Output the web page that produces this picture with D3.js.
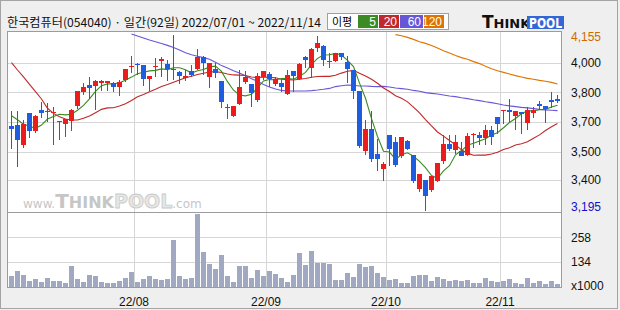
<!DOCTYPE html>
<html>
<head>
<meta charset="UTF-8">
<title>한국컴퓨터 일간</title>
<style>
  body { margin:0; background:#efefef; }
  svg { display:block; }
</style>
</head>
<body>
<script src="https://cdn.jsdelivr.net/npm/d3@7"></script>
<script>
// daily candles, 2022/07/01 ~ 2022/11/14 (92 trading days)
var open = [3655,3660,3550,3725,3625,3745,3735,3730,3680,3670, 3685,3765,3845,3880,3870,3890,3890,3890,3865,3910,
  3980,3995,3990,3915,3980,4015,3995,3970,3950,3920, 3955,3970,4035,3925,3970,3905,3760,3710,3775,3895,
  3885,3800,3920,3940,3885,3890,3830,3955,3915,4035, 3975,4080,4095,4010,4010,4055,4005,3965,3850,3520,
  3640,3500,3420,3605,3570,3490,3575,3495,3305,3360, 3305,3355,3460,3555,3525,3520,3495,3605,3605,3590,
  3635,3705,3740,3745,3715,3735,3675,3730,3775,3765, 3800,3805];
var high = [3740,3740,3690,3725,3715,3790,3780,3760,3685,3695, 3750,3850,3890,3925,3910,3910,3905,3895,3910,3970,
  4040,4000,3990,3930,4030,4035,4020,4155,3960,3965, 3990,4080,4040,4000,4000,3905,3775,3765,3965,3955,
  3885,3945,3960,3950,3925,3915,3965,3955,4000,4040, 4085,4150,4100,4055,4055,4055,4040,3965,3850,3690,
  3740,3585,3460,3605,3595,3595,3580,3495,3390,3360, 3380,3455,3605,3605,3605,3570,3620,3615,3625,3660,
  3655,3705,3745,3805,3740,3735,3760,3760,3795,3765, 3840,3825];
var low = [3535,3435,3540,3595,3625,3705,3685,3555,3585,3600, 3635,3755,3830,3810,3750,3855,3855,3850,3825,3900,
  3950,3940,3880,3855,3930,3930,3910,3915,3890,3910, 3930,3970,3940,3870,3925,3760,3700,3710,3775,3890,
  3765,3795,3915,3875,3880,3850,3830,3850,3915,3980, 3925,4065,3990,3980,4010,4025,3895,3810,3540,3500,
  3465,3415,3360,3440,3435,3485,3530,3350,3300,3195, 3300,3355,3455,3525,3505,3495,3495,3540,3555,3555,
  3555,3620,3675,3685,3640,3620,3640,3705,3750,3680, 3760,3790];
var close = [3640,3575,3665,3625,3710,3730,3740,3735,3685,3695, 3745,3850,3870,3865,3900,3900,3900,3870,3895,3970,
  3985,3990,3915,3930,3985,4025,3970,3965,3930,3930, 3935,4035,4000,4000,3950,3790,3755,3765,3870,3925,
  3835,3930,3955,3910,3915,3870,3935,3930,3995,4020, 4080,4110,4020,4005,4055,4035,3965,3850,3550,3640,
  3475,3475,3445,3530,3445,3595,3530,3350,3390,3270, 3380,3455,3555,3530,3570,3495,3600,3610,3590,3635,
  3595,3665,3745,3735,3740,3725,3745,3745,3765,3750, 3790,3795];
// volume, x1000
var volume = [61,87,66,36,46,31,51,36,36,26, 112,46,31,66,61,31,26,26,36,51,
  82,31,46,61,46,41,46,245,61,46, 51,378,184,123,97,168,61,31,112,112,
  51,92,61,87,71,51,31,66,179,117, 189,128,128,123,41,41,77,56,123,107,
  112,77,56,41,46,26,26,61,66,66, 36,56,46,36,41,36,41,26,26,51,
  36,31,36,46,26,20,51,26,36,20, 36,20];

// moving averages
var ma5 = [3712,3690,3666,3655,3643,3661,3694,3708,3720,3717, 3720,3742,3769,3805,3846,3877,3887,3887,3893,3907,
  3924,3942,3951,3958,3961,3969,3965,3975,3975,3964, 3946,3959,3966,3980,3984,3955,3899,3852,3826,3821,
  3830,3865,3903,3911,3909,3916,3917,3912,3929,3950, 3992,4027,4045,4047,4054,4045,4016,3982,3891,3808,
  3696,3598,3517,3513,3474,3498,3509,3490,3462,3427, 3384,3369,3410,3438,3498,3521,3550,3561,3573,3586,
  3606,3619,3646,3675,3697,3723,3739,3739,3745,3747, 3760,3770];
var ma20 = [4003,3963,3925,3884,3844,3804,3753,3725,3707,3694, 3689,3689,3698,3711,3729,3747,3755,3756,3765,3778,
  3796,3816,3829,3844,3858,3873,3884,3896,3908,3920, 3929,3938,3945,3952,3954,3949,3941,3936,3935,3933,
  3925,3922,3924,3923,3920,3912,3910,3908,3912,3916, 3923,3927,3928,3928,3934,3946,3956,3961,3945,3930,
  3912,3890,3864,3845,3822,3808,3788,3759,3728,3691, 3656,3623,3600,3576,3552,3525,3507,3495,3497,3496,
  3502,3512,3527,3537,3552,3558,3569,3589,3607,3631, 3652,3669];
var ma60Start = 20;
var ma60 = [4161,4150,4139,4128,4118,4108,4098,4087,4073,4058, 4047,4038,4031,4022,4005,3987,3974,3959,3947,3932,
  3915,3901,3883,3870,3859,3851,3848,3848,3848,3848, 3850,3853,3857,3862,3872,3877,3881,3879,3875,3875,
  3873,3872,3873,3870,3864,3861,3857,3851,3846,3839, 3835,3831,3826,3820,3817,3811,3806,3800,3795,3789,
  3784,3778,3771,3766,3762,3758,3755,3751,3747,3744, 3742,3740];
var ma120Start = 64;
var ma120 = [4157,4151,4142,4131,4118,4109,4098,4084,4069,4056, 4043,4031,4022,4009,3998,3983,3970,3959,3950,3941,
  3932,3925,3917,3912,3906,3901,3895,3886];

// axis ticks
var priceGrid = [4000,3840,3680,3515,3360];
var priceLabels = ["4,000","3,800","3,700","3,500","3,400"];
var volGrid = [258,134];
var volLabels = ["258","134"];
var monthIndex = [21,43,63,82];
var monthLabels = ["22/08","22/09","22/10","22/11"];
var maNames = ["5","20","60","120"];
var maColors = ["#3b8a24","#c0282a","#6757d6","#e07300"];

var width = 620, height = 310;
var plotLeft = 7, plotRight = 562, priceTop = 32, priceBottom = 212, volBottom = 288;
var upColor = "#ec1c1c", downColor = "#1f5de0";
var labelFont = "'Liberation Sans', Arial, sans-serif";
var krFont = "'Noto Sans CJK KR', sans-serif";

var svg = d3.select("body").append("svg")
  .attr("width",width)
  .attr("height",height);

svg.append("rect").attr("width",width).attr("height",height).attr("fill","#efefef");
svg.append("rect").attr("x",0.5).attr("y",0.5).attr("width",617).attr("height",308)
  .attr("fill","none").attr("stroke","#a4a4a4");

// title
svg.append("text")
  .attr("x",7).attr("y",27)
  .attr("font-family",krFont).attr("font-size",12)
  .attr("fill","#111")
  .attr("textLength",314).attr("lengthAdjust","spacingAndGlyphs")
  .text("한국컴퓨터(054040) · 일간(92일) 2022/07/01 ~ 2022/11/14");

// moving average legend
var lg = svg.append("g");
lg.append("rect").attr("x",327.5).attr("y",13.5).attr("width",121).attr("height",16)
  .attr("fill","#fff").attr("stroke","#a0a0a0");
lg.append("text").attr("x",332).attr("y",25.5).attr("font-family",krFont).attr("font-size",11)
  .attr("fill","#000").text("이평");
var boxX = [358,379,400,424], boxW = [20,20,23,20];
maNames.forEach(function(n,k){
  lg.append("rect").attr("x",boxX[k]).attr("y",15).attr("width",boxW[k]).attr("height",13)
    .attr("fill",maColors[k]);
  lg.append("text").attr("x",boxX[k]+boxW[k]-2).attr("y",26)
    .attr("text-anchor","end").attr("font-family",labelFont).attr("font-size",12)
    .attr("fill","#fff").text(n);
});

// THINKPOOL logo
var logo = svg.append("g");
var lt = logo.append("text").attr("x",482).attr("y",28)
  .attr("font-family","'DejaVu Sans', sans-serif").attr("font-weight","bold").attr("fill","#111");
lt.append("tspan").attr("font-size",17).text("T");
lt.append("tspan").attr("font-size",13).text("HINK");
logo.append("rect").attr("x",527).attr("y",16).attr("width",37).attr("height",13).attr("fill","#3467d6");
logo.append("text").attr("x",529).attr("y",28)
  .attr("font-family","'DejaVu Sans', sans-serif").attr("font-weight","bold").attr("font-size",14)
  .attr("fill","#fff").attr("textLength",33).attr("lengthAdjust","spacingAndGlyphs").text("POOL");

// scales
var x = d3.scaleBand().domain(d3.range(open.length)).range([8,560]);
var y = d3.scaleLinear().domain([d3.min(low),d3.max(high)]).range([210,35]);
var vy = d3.scaleLinear().domain([0,388]).range([volBottom,priceBottom]);
function cx(i){ return x(i)+3.5; }

// panels
svg.append("rect").attr("x",plotLeft).attr("y",priceTop).attr("width",plotRight-plotLeft)
  .attr("height",volBottom-priceTop).attr("fill","#fff");

var grid = svg.append("g").attr("stroke","#d6d6d6").attr("shape-rendering","crispEdges");
grid.selectAll(".pg").data(priceGrid).join("line")
  .attr("x1",plotLeft).attr("x2",plotRight)
  .attr("y1",function(d){return Math.round(y(d))+0.5;})
  .attr("y2",function(d){return Math.round(y(d))+0.5;});
grid.selectAll(".vg").data(volGrid).join("line")
  .attr("x1",plotLeft).attr("x2",plotRight)
  .attr("y1",function(d){return Math.round(vy(d))+0.5;})
  .attr("y2",function(d){return Math.round(vy(d))+0.5;});
grid.selectAll(".mg").data(monthIndex).join("line")
  .attr("x1",function(d){return x(d)+0.5;}).attr("x2",function(d){return x(d)+0.5;})
  .attr("y1",priceTop).attr("y2",volBottom);

// watermark
var wm = svg.append("text").attr("x",23).attr("y",208)
  .attr("font-family","'DejaVu Sans', sans-serif").attr("fill","#c6c6c6");
wm.append("tspan").attr("font-size",12).text("www.");
wm.append("tspan").attr("font-size",20).attr("font-weight","bold").text("T");
wm.append("tspan").attr("font-size",16).attr("font-weight","bold").text("HINK");
wm.append("tspan").attr("font-size",19).attr("font-weight","bold").attr("fill","#e6e6e6")
  .attr("stroke","#cacaca").attr("stroke-width",0.8).text("POOL");
wm.append("tspan").attr("font-size",12).text(".com");

// volume bars
svg.append("g").attr("shape-rendering","crispEdges").selectAll("rect").data(volume).join("rect")
  .attr("x",function(d,i){return x(i)+1;})
  .attr("width",5)
  .attr("y",function(d){return Math.round(vy(d));})
  .attr("height",function(d){return volBottom-Math.round(vy(d));})
  .attr("fill","#a0a9c1");

// moving average lines, clipped to the price panel
svg.append("clipPath").attr("id","priceClip").append("rect")
  .attr("x",plotLeft).attr("y",priceTop).attr("width",plotRight-plotLeft).attr("height",priceBottom-priceTop);
var maG = svg.append("g").attr("clip-path","url(#priceClip)").attr("fill","none").attr("stroke-width",1.1);
function maLine(start){
  return d3.line().x(function(d,k){return cx(start+k);}).y(function(d){return y(d);});
}
maG.append("path").attr("d",maLine(ma120Start)(ma120)).attr("stroke",maColors[3]);
maG.append("path").attr("d",maLine(ma60Start)(ma60)).attr("stroke",maColors[2]);
maG.append("path").attr("d",maLine(0)(ma20)).attr("stroke",maColors[1]);
maG.append("path").attr("d",maLine(0)(ma5)).attr("stroke",maColors[0]);

// candles
var cg = svg.append("g").attr("shape-rendering","crispEdges");
var candle = cg.selectAll("g").data(d3.range(open.length)).join("g")
  .attr("fill",function(i){return close[i]>=open[i]?upColor:downColor;})
  .attr("stroke",function(i){return close[i]>=open[i]?upColor:downColor;});
candle.append("line")
  .attr("x1",cx).attr("x2",cx)
  .attr("y1",function(i){return Math.round(y(high[i]));})
  .attr("y2",function(i){return Math.round(y(low[i]))+1;});
candle.append("rect")
  .attr("stroke","none")
  .attr("x",function(i){return x(i)+1;})
  .attr("width",5)
  .attr("y",function(i){return Math.round(y(Math.max(open[i],close[i])));})
  .attr("height",function(i){return Math.max(1,Math.round(Math.abs(y(open[i])-y(close[i]))));});

// frame
var fr = svg.append("g").attr("fill","none").attr("stroke","#9c9c9c").attr("shape-rendering","crispEdges");
fr.append("rect").attr("x",plotLeft+0.5).attr("y",priceTop-0.5).attr("width",plotRight-plotLeft-1).attr("height",volBottom-priceTop);
fr.append("line").attr("x1",plotLeft).attr("x2",plotRight).attr("y1",priceBottom+0.5).attr("y2",priceBottom+0.5);

// price labels
var ax = svg.append("g").attr("font-family",labelFont).attr("font-size",12);
ax.selectAll(".pl").data(priceGrid).join("text")
  .attr("x",571).attr("y",function(d){return y(d);}).attr("dy","0.35em")
  .attr("fill","#111").text(function(d,k){return priceLabels[k];});
ax.append("text").attr("x",571).attr("y",y(d3.max(high))+2).attr("dy","0.35em")
  .attr("fill","#d06a00").text(d3.format(",")(d3.max(high)));
ax.append("text").attr("x",571).attr("y",y(d3.min(low))-3).attr("dy","0.35em")
  .attr("fill","#1010c8").text(d3.format(",")(d3.min(low)));
ax.selectAll(".vl").data(volGrid).join("text")
  .attr("x",571).attr("y",function(d){return vy(d);}).attr("dy","0.35em")
  .attr("fill","#111").text(function(d,k){return volLabels[k];});
ax.append("text").attr("x",571).attr("y",volBottom-2).attr("dy","0.35em").attr("fill","#111").text("x1000");
ax.selectAll(".ml").data(monthIndex).join("text")
  .attr("x",function(d){return x(d);}).attr("y",302).attr("dy","0.35em")
  .attr("text-anchor","middle").attr("fill","#111")
  .text(function(d,k){return monthLabels[k];});
</script>
</body>
</html>
